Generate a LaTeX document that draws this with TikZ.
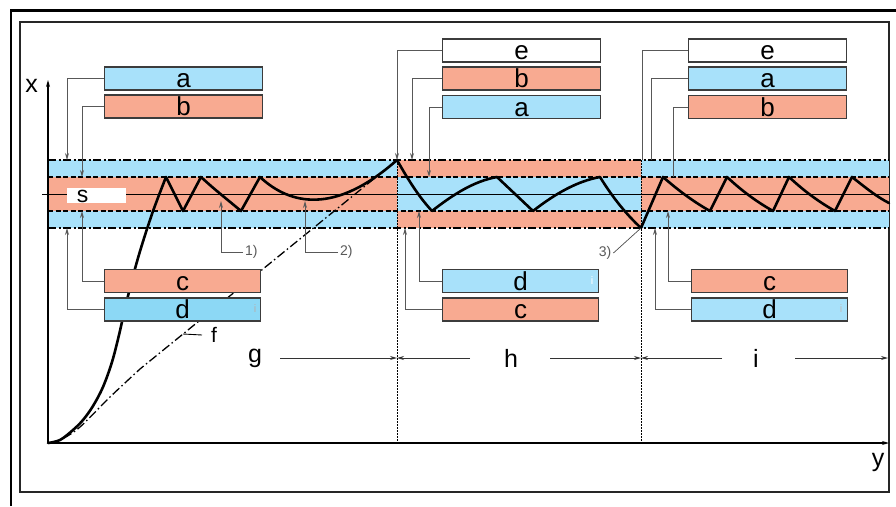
\documentclass[tikz,border=0pt]{standalone}
\usepackage{fontspec}
\setmainfont{Liberation Sans}
\usetikzlibrary{arrows.meta}
\definecolor{bl}{HTML}{A8E1FA}
\definecolor{bld}{HTML}{8CD8F5}
\definecolor{sa}{HTML}{F8AA91}
\definecolor{leadc}{HTML}{585858}
\definecolor{boxc}{HTML}{3C3C3C}
\begin{document}
\begin{tikzpicture}[x=1pt,y=-1pt,
  lbox/.style={draw=boxc, line width=1.1pt, minimum width=158pt, minimum height=23pt, inner sep=0pt, text height=19pt, text depth=1pt, anchor=west, font=\fontsize{26}{26}\selectfont},
  sbox/.style={lbox, minimum width=156pt},
  lead/.style={draw=leadc, line width=0.9pt},
  arr/.style={-{Stealth[length=7pt,width=4pt]}},
  dd/.style={line width=1.4pt, dash pattern=on 8pt off 2.5pt on 2pt off 2.5pt},
  ds/.style={line width=1.4pt, dash pattern=on 5pt off 2.5pt},
  crv/.style={line width=2.6pt, line join=round, line cap=round},
  dimline/.style={draw=black!80, line width=0.9pt},
  big/.style={font=\fontsize{25}{25}\selectfont, inner sep=0pt},
  small/.style={font=\fontsize{14}{14}\selectfont, text=black!65, inner sep=2pt},
  faint/.style={font=\fontsize{11}{11}\selectfont, inner sep=0pt}
]
\useasboundingbox (0,0) rectangle (896,506);
% frames
\draw[line width=2.6pt] (11,506) -- (11,10.5) -- (896,10.5);
\draw[line width=1.2pt, draw=black!85] (20,22) rectangle (889,492);

% bands
\fill[bl] (48,160) rectangle (397,177);
\fill[sa] (48,177) rectangle (397,211);
\fill[bl] (48,211) rectangle (397,228);
\fill[sa] (397,160) rectangle (641,177);
\fill[bl] (397,177) rectangle (641,211);
\fill[sa] (397,211) rectangle (641,228);
\fill[bl] (641,160) rectangle (889,177);
\fill[sa] (641,177) rectangle (889,211);
\fill[bl] (641,211) rectangle (889,228);

\coordinate (L1) at (48,160); \coordinate (R1) at (889,160);
\coordinate (L2) at (48,177); \coordinate (R2) at (889,177);
\coordinate (L3) at (42,194); \coordinate (R3) at (889,194);
\coordinate (L4) at (48,211); \coordinate (R4) at (889,211);
\coordinate (L5) at (48,228); \coordinate (R5) at (889,228);
\draw[dd] (L1) -- (R1);
\draw[ds] (L2) -- (R2);
\draw[line width=1pt] (L3) -- (R3);
\draw[ds] (L4) -- (R4);
\draw[dd] (L5) -- (R5);

% section dividers
\coordinate (v1t) at (397,160); \coordinate (v1b) at (397,443);
\coordinate (v2t) at (641,160); \coordinate (v2b) at (641,443);
\draw[line width=0.6pt, dash pattern=on 1.5pt off 1.5pt] (v1t) -- (v1b);
\draw[line width=0.6pt, dash pattern=on 1.5pt off 1.5pt] (v2t) -- (v2b);

% axes
\coordinate (O) at (48,443);
\coordinate (ytop) at (48,80);
\coordinate (xend) at (889,443);
\draw[line width=1.5pt, arr] (O) -- (ytop);
\draw[line width=1.5pt, arr] (O) -- (xend);
\node[big] (xl) at (31.5,86) {x};
\node[big] (yl) at (878,462) {y};

% f line
\coordinate (pk) at (397,160);
\draw[line width=1.3pt, dash pattern=on 9pt off 3pt on 1.5pt off 3pt] plot[smooth, tension=0.5] coordinates {(48,443) (62,439) (80,427) (110,397) (140,369)} -- (pk);

% main curve
\draw[crv] plot[smooth, tension=0.55] coordinates {(48,443) (60,440) (73,430) (83,420) (93,406) (103,387) (112,362) (119,335) (127,300) (138,258) (152,214) (166,177)}
  -- (183,211) -- (201,177)
  .. controls (215,190) and (228,200) .. (241,211)
  -- (260,177)
  .. controls (290,205) and (335,215) .. (397,160)
  .. controls (410,183) and (420,198) .. (432,211)
  .. controls (455,193) and (475,181) .. (497,177)
  -- (533,211)
  .. controls (556,193) and (578,181) .. (600,177)
  .. controls (613,198) and (626,214) .. (641,228)
  -- (663,177)
  .. controls (679,191) and (694,202) .. (710,211)
  -- (727,177)
  .. controls (742,191) and (757,202) .. (773,211)
  -- (789,177)
  .. controls (804,191) and (819,202) .. (835,211)
  -- (852,177)
  .. controls (866,188) and (877,197) .. (889,203);

% s box
\fill[white] (67,188) rectangle (126,203);
\node[font=\fontsize{23}{23}\selectfont, inner sep=0pt, text height=12pt, text depth=0pt] (sl) at (82.5,196) {s};

% targets
\coordinate (t1) at (221,201);
\coordinate (t2) at (305,201);
\coordinate (p3) at (641,228);
\node[small, anchor=west] (n1) at (243,252) {1)};
\node[small, anchor=west] (n2) at (338,252) {2)};
\node[small] (n3) at (605,253) {3)};
\draw[lead, arr] (n1.west) -| (t1);
\draw[lead, arr] (n2.west) -| (t2);
\draw[line width=0.7pt, draw=black!70] (n3.east) -- (p3);

% boxes section 1
\node[lbox, fill=bl] (A1) at (104,78.5) {a};
\node[lbox, fill=sa] (B1) at (104,106.5) {b};
\node[sbox, fill=sa] (C1) at (104,281) {c};
\node[sbox, fill=bld] (D1) at (104,309.5) {d};
\coordinate (ta1) at (67,160);
\coordinate (tb1) at (82,177);
\coordinate (tc1) at (82,211);
\coordinate (td1) at (67,228);
\draw[lead, arr] (A1.west) -| (ta1);
\draw[lead, arr] (B1.west) -| (tb1);
\draw[lead, arr] (C1.west) -| (tc1);
\draw[lead, arr] (D1.west) -| (td1);

% boxes section 2
\node[lbox, fill=white] (E2) at (442,50.5) {e};
\node[lbox, fill=sa] (B2) at (442,78.5) {b};
\node[lbox, fill=bl] (A2) at (442,107) {a};
\node[sbox, fill=bl] (D2) at (442,281) {d};
\node[sbox, fill=sa] (C2) at (442,309.5) {c};
\coordinate (te2) at (397,160);
\coordinate (tb2) at (412,160);
\coordinate (ta2) at (429,177);
\coordinate (td2) at (419,211);
\coordinate (tc2) at (405,228);
\draw[lead, arr] (E2.west) -| (te2);
\draw[lead, arr] (B2.west) -| (tb2);
\draw[lead, arr] (A2.west) -| (ta2);
\draw[lead, arr] (D2.west) -| (td2);
\draw[lead, arr] (C2.west) -| (tc2);

% boxes section 3
\node[lbox, fill=white] (E3) at (688,50.5) {e};
\node[lbox, fill=bl] (A3) at (688,78.5) {a};
\node[lbox, fill=sa] (B3) at (688,107) {b};
\node[sbox, fill=sa] (C3) at (691,281) {c};
\node[sbox, fill=bl] (D3) at (691,309.5) {d};
\coordinate (te3) at (642,160);
\coordinate (ta3) at (651,160);
\coordinate (tb3) at (673,177);
\coordinate (tc3) at (668,211);
\coordinate (td3) at (655,228);
\draw[lead] (E3.west) -| (te3);
\draw[lead] (A3.west) -| (ta3);
\draw[lead] (B3.west) -| (tb3);
\draw[lead, arr] (C3.west) -| (tc3);
\draw[lead, arr] (D3.west) -| (td3);

% faint marks in d boxes
\node[faint, text=black!30] (i1) at (255,309) {i};
\node[faint, text=white] (i2) at (592,281) {i};
\node[faint, text=black!25] (i3) at (841,309) {i};

% f label
\node[font=\fontsize{21}{21}\selectfont, inner sep=0pt] (fl) at (214,335) {f};
\coordinate (fs) at (183,334);
\draw[line width=0.9pt] (fs) -- ([xshift=-12pt]fl.center);

% dimension line
\node[big] (g) at (255,358) {g};
\node[big] (h) at (511,358) {h};
\node[big] (i) at (756,358) {i};
\coordinate (gs) at (280,358);
\coordinate (hl) at (470,358);
\coordinate (hr) at (550,358);
\coordinate (il) at (722,358);
\coordinate (ir) at (795,358);
\coordinate (d1) at (397,358);
\coordinate (d2) at (641,358);
\coordinate (d3) at (888,358);
\draw[dimline, arr] (gs) -- (d1);
\draw[dimline, arr] (hl) -- (d1);
\draw[dimline, arr] (hr) -- (d2);
\draw[dimline, arr] (il) -- (d2);
\draw[dimline, arr] (ir) -- (d3);
\end{tikzpicture}
\end{document}
